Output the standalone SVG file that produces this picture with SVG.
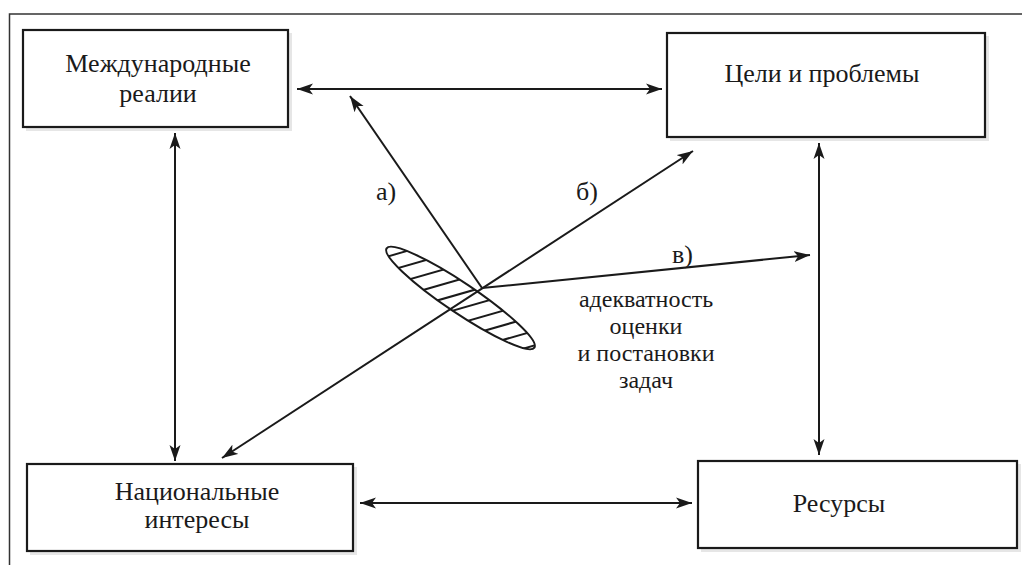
<svg xmlns="http://www.w3.org/2000/svg" width="1022" height="565" viewBox="0 0 1022 565">
  <style>
    .box { fill: #ffffff; stroke: #1a1a1a; stroke-width: 2.2; }
    .shadow { fill: #e6e6e6; }
    .t { font-family: 'Liberation Serif', 'Times New Roman', serif; font-size: 26px; fill: #1a1a1a; }
    .p { font-size: 24px; }
    .c { text-anchor: middle; }
    .ln { stroke: #1a1a1a; stroke-width: 2; fill: none; }
    .frame { stroke: #333333; stroke-width: 1.5; fill: none; }
  </style>
  <defs>
    <marker id="ah" markerUnits="userSpaceOnUse" markerWidth="18" markerHeight="12" refX="16" refY="6" orient="auto-start-reverse">
      <path d="M0,0.5 L16,6 L0,11.5 L4,6 z" fill="#1a1a1a"/>
    </marker>
    <clipPath id="ellclip">
      <ellipse cx="0" cy="0" rx="89" ry="15"/>
    </clipPath>
  </defs>
  <rect width="1022" height="565" fill="#ffffff"/>
  <path class="frame" d="M9.5,565 L9.5,14 L1022,14"/>

  <g id="node-mezhdunarodnye">
    <rect class="shadow" x="26" y="33" width="266" height="98"/>
    <rect class="box" x="23" y="30" width="265" height="97"/>
    <text class="t c" x="158" y="72">Международные</text>
    <text class="t c" x="158" y="102">реалии</text>
  </g>
  <g id="node-tseli">
    <rect class="shadow" x="670" y="36" width="319" height="105"/>
    <rect class="box" x="667" y="33" width="318" height="104"/>
    <text class="t c" x="822" y="82">Цели и проблемы</text>
  </g>
  <g id="node-natsionalnye">
    <rect class="shadow" x="30" y="467" width="327" height="88"/>
    <rect class="box" x="27" y="464" width="326" height="87"/>
    <text class="t c" x="197" y="500">Национальные</text>
    <text class="t c" x="197" y="528">интересы</text>
  </g>
  <g id="node-resursy">
    <rect class="shadow" x="701" y="464" width="320" height="88"/>
    <rect class="box" x="698" y="461" width="319" height="87"/>
    <text class="t c" x="839" y="512">Ресурсы</text>
  </g>

  <g id="node-ellipse">
    <g transform="translate(460.5,298) rotate(33.9)">
      <g clip-path="url(#ellclip)">
        <g transform="rotate(-49.9)" stroke="#1a1a1a" stroke-width="2">
          <line x1="-120" y1="-60" x2="120" y2="-60"/>
          <line x1="-120" y1="-46" x2="120" y2="-46"/>
          <line x1="-120" y1="-32" x2="120" y2="-32"/>
          <line x1="-120" y1="-18" x2="120" y2="-18"/>
          <line x1="-120" y1="-4" x2="120" y2="-4"/>
          <line x1="-120" y1="10" x2="120" y2="10"/>
          <line x1="-120" y1="24" x2="120" y2="24"/>
          <line x1="-120" y1="38" x2="120" y2="38"/>
          <line x1="-120" y1="52" x2="120" y2="52"/>
          <line x1="-120" y1="66" x2="120" y2="66"/>
        </g>
      </g>
      <ellipse cx="0" cy="0" rx="89" ry="15" fill="none" stroke="#1a1a1a" stroke-width="2"/>
    </g>
  </g>

  <g id="connectors">
    <line class="ln" x1="297" y1="89" x2="662" y2="89" marker-start="url(#ah)" marker-end="url(#ah)"/>
    <line class="ln" x1="175" y1="133" x2="175" y2="461" marker-start="url(#ah)" marker-end="url(#ah)"/>
    <line class="ln" x1="819" y1="143" x2="819" y2="455" marker-start="url(#ah)" marker-end="url(#ah)"/>
    <line class="ln" x1="360" y1="503" x2="692" y2="503" marker-start="url(#ah)" marker-end="url(#ah)"/>
    <line class="ln" x1="482" y1="288" x2="350" y2="96" marker-end="url(#ah)"/>
    <line class="ln" x1="222" y1="458" x2="693" y2="151" marker-start="url(#ah)" marker-end="url(#ah)"/>
    <line class="ln" x1="482" y1="288" x2="810" y2="255" marker-end="url(#ah)"/>
  </g>

  <g id="labels">
    <text class="t" x="376" y="200">а)</text>
    <text class="t" x="576" y="200">б)</text>
    <text class="t" x="672" y="263">в)</text>
    <text class="t p c" x="646" y="307">адекватность</text>
    <text class="t p c" x="646" y="334">оценки</text>
    <text class="t p c" x="646" y="361">и постановки</text>
    <text class="t p c" x="646" y="388">задач</text>
  </g>
</svg>
